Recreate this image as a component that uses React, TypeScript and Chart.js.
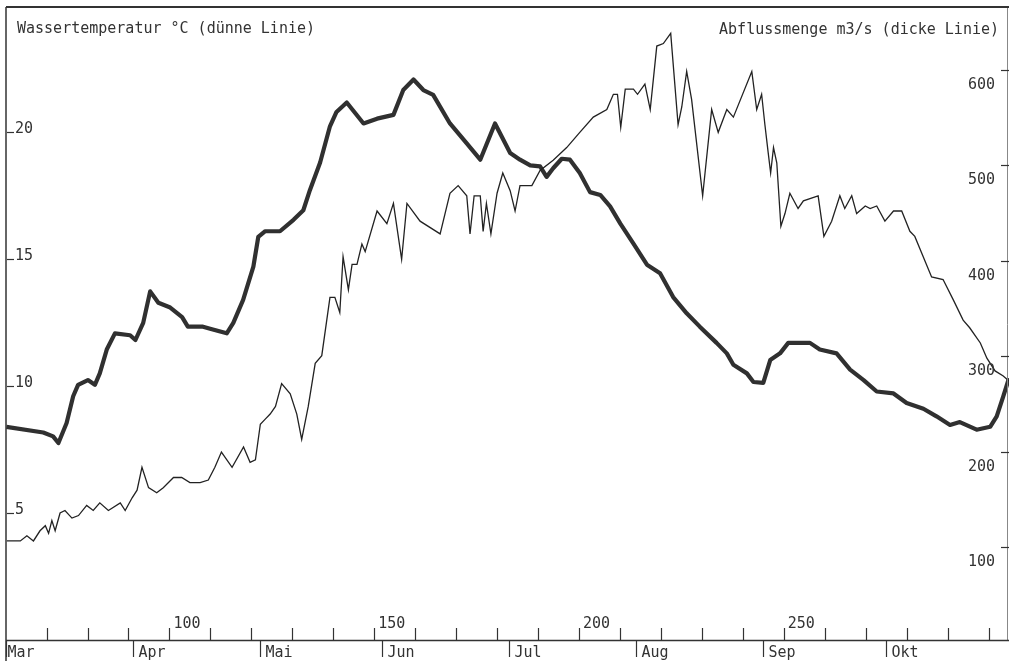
import React, { useEffect, useRef } from 'react';
import { Chart, registerables } from 'chart.js';

Chart.register(...registerables);

// Day of year (x) and water temperature in °C (thin line, left axis)
const tempDays = [
  60.3, 63.6, 65.2, 66.8, 68.4, 69.7, 70.5, 71.3, 72.1, 73.3, 74.5, 76.2, 77.8, 79.8, 81.4, 83.0, 85.1,
  88.0, 89.2, 90.9, 92.1, 93.3, 94.9, 96.9, 98.5, 101.0, 103.0, 105.0, 107.5, 109.5, 111.1, 112.7,
  115.3, 118.1, 119.7, 121.0, 122.2, 123.4, 124.6, 125.9, 127.4, 129.5, 131.1, 132.3, 133.9, 135.6,
  137.2, 139.2, 140.4, 141.6, 142.4, 143.7, 144.6, 145.8, 147.0, 147.8, 150.7, 153.1, 154.7, 156.7,
  158.0, 161.2, 166.1, 168.5, 170.5, 172.6, 173.4, 174.4, 175.9, 176.6, 177.4, 178.5, 180.0, 181.4,
  183.2, 184.4, 185.6, 188.5, 190.5, 193.7, 197.0, 200.2, 203.5, 206.8, 208.4, 209.4, 210.2, 211.3,
  213.3, 214.3, 216.1, 217.4, 219.0, 220.6, 222.4, 224.2, 225.1, 226.3, 227.5, 230.2, 232.4, 234.0,
  236.1, 237.7, 242.2, 243.4, 244.6, 245.4, 246.2, 246.8, 247.5, 248.3, 249.3, 250.3, 251.5, 253.5,
  254.8, 258.4, 259.8, 261.7, 263.7, 264.9, 266.6, 267.8, 269.9, 271.1, 272.7, 274.7, 276.8, 278.8,
  280.8, 282.0, 286.1, 288.9, 291.4, 293.8, 295.4, 298.0, 299.6, 301.6, 303.6, 305.0,
];
const tempValues = [
  3.9, 3.9, 4.1, 3.9, 4.3, 4.5, 4.2, 4.7, 4.3, 5.0, 5.1, 4.8, 4.9, 5.3, 5.1, 5.4, 5.1,
  5.4, 5.1, 5.6, 5.9, 6.8, 6.0, 5.8, 6.0, 6.4, 6.4, 6.2, 6.2, 6.3, 6.8, 7.4,
  6.8, 7.6, 7.0, 7.1, 8.5, 8.7, 8.9, 9.2, 10.1, 9.7, 8.9, 7.9, 9.2, 10.9,
  11.2, 13.5, 13.5, 12.9, 15.1, 13.8, 14.8, 14.8, 15.6, 15.3, 16.9, 16.4, 17.2, 15.0,
  17.2, 16.5, 16.0, 17.6, 17.9, 17.5, 16.0, 17.5, 17.5, 16.1, 17.2, 16.0, 17.6, 18.4,
  17.7, 16.9, 17.9, 17.9, 18.5, 18.9, 19.4, 20.0, 20.6, 20.9, 21.5, 21.5, 20.2, 21.7,
  21.7, 21.5, 21.9, 20.9, 23.4, 23.5, 23.9, 20.3, 21.0, 22.4, 21.3, 17.5, 20.9, 20.0,
  20.9, 20.6, 22.4, 20.9, 21.5, 20.3, 19.2, 18.4, 19.4, 18.8, 16.3, 16.8, 17.6, 17.0,
  17.3, 17.5, 15.9, 16.5, 17.5, 17.0, 17.5, 16.8, 17.1, 17.0, 17.1, 16.5, 16.9, 16.9,
  16.1, 15.9, 14.3, 14.2, 13.4, 12.6, 12.3, 11.7, 11.1, 10.6, 10.4, 10.2,
];

// Day of year (x) and discharge in m3/s (thick line, right axis)
const flowDays = [
  60.2, 69.2, 71.6, 72.9, 74.9, 76.5, 77.7, 80.1, 81.8, 83.0, 84.7, 86.7, 90.4, 91.7, 93.6, 95.3,
  97.3, 100.2, 103.1, 104.5, 108.2, 110.6, 114.0, 115.6, 118.0, 120.5, 121.7, 123.4, 127.0, 130.3,
  132.7, 134.3, 136.8, 139.2, 140.8, 143.3, 147.4, 150.7, 154.7, 157.1, 159.6, 162.0, 164.4, 168.5,
  172.6, 175.9, 179.5, 183.2, 185.6, 188.1, 190.5, 192.1, 193.7, 195.8, 197.8, 200.2, 202.7, 205.2,
  207.6, 210.1, 213.3, 216.6, 219.8, 223.0, 226.3, 229.5, 233.6, 236.1, 237.7, 241.0, 242.6, 245.0,
  246.7, 249.1, 251.1, 256.4, 258.8, 262.9, 266.2, 269.5, 272.7, 276.8, 280.0, 284.1, 287.3, 290.6,
  293.0, 297.1, 300.4, 302.0, 303.6, 305.0,
];
const flowValues = [
  226, 220, 216, 209, 230, 258, 270, 275, 270, 282, 307, 324, 322, 317, 335, 368,
  356, 351, 341, 331, 331, 328, 324, 335, 359, 394, 425, 431, 431, 443,
  453, 474, 503, 541, 556, 566, 544, 549, 553, 579, 590, 579, 574, 544,
  523, 506, 544, 513, 506, 500, 499, 488, 497, 507, 506, 492, 472, 469,
  457, 439, 418, 396, 387, 362, 345, 331, 314, 303, 291, 282, 273, 272,
  296, 303, 314, 314, 307, 303, 286, 275, 263, 261, 251, 245, 237, 228,
  231, 223, 226, 237, 258, 277,
];

const dayTicks = [70, 80, 90, 100, 110, 120, 130, 140, 150, 160, 170, 180, 190, 200, 210, 220, 230, 240, 250, 260, 270, 280, 290, 300];
const dayLabels = [100, 150, 200, 250];
const monthNames = ['Mar', 'Apr', 'Mai', 'Jun', 'Jul', 'Aug', 'Sep', 'Okt'];
const monthStarts = [60.1, 91, 122, 152, 183, 214, 245, 275];
const tempTicks = [5, 10, 15, 20];
const flowTicks = [100, 200, 300, 400, 500, 600];
const titleLeft = 'Wassertemperatur °C (dünne Linie)';
const titleRight = 'Abflussmenge m3/s (dicke Linie)';

const FONT = '15px "DejaVu Sans Mono", "Liberation Mono", monospace';
const INK = '#333333';

const decorations = {
  id: 'decorations',
  afterDraw(chart: any) {
    const { ctx, chartArea: a, scales } = chart;
    const sx = scales.x;
    const sT = scales.yT;
    const sQ = scales.yQ;
    ctx.save();
    ctx.strokeStyle = INK;
    ctx.fillStyle = INK;
    ctx.font = FONT;

    // frame
    ctx.lineWidth = 2;
    ctx.beginPath();
    ctx.moveTo(a.left, a.top - 1);
    ctx.lineTo(a.right, a.top - 1);
    ctx.stroke();
    ctx.lineWidth = 1.5;
    ctx.beginPath();
    ctx.moveTo(a.left, a.top - 1);
    ctx.lineTo(a.left, a.bottom + 20);
    ctx.stroke();
    ctx.lineWidth = 1;
    ctx.strokeStyle = '#888888';
    ctx.beginPath();
    ctx.moveTo(a.right - 1.5, a.top);
    ctx.lineTo(a.right - 1.5, a.bottom);
    ctx.stroke();
    ctx.strokeStyle = INK;

    // bottom axis
    ctx.lineWidth = 1.5;
    ctx.beginPath();
    ctx.moveTo(a.left, a.bottom - 0.5);
    ctx.lineTo(a.right, a.bottom - 0.5);
    ctx.stroke();
    ctx.lineWidth = 1.2;
    dayTicks.forEach((d) => {
      const px = Math.round(sx.getPixelForValue(d)) + 0.5;
      ctx.beginPath();
      ctx.moveTo(px, a.bottom);
      ctx.lineTo(px, a.bottom - 13);
      ctx.stroke();
    });
    ctx.textAlign = 'left';
    ctx.textBaseline = 'alphabetic';
    dayLabels.forEach((d) => {
      const px = sx.getPixelForValue(d);
      ctx.fillText(String(d), px + 4, a.bottom - 13);
    });
    monthStarts.forEach((d, i) => {
      const px = Math.round(sx.getPixelForValue(d)) + 0.5;
      ctx.beginPath();
      ctx.moveTo(px, a.bottom);
      ctx.lineTo(px, a.bottom + 16);
      ctx.stroke();
      ctx.fillText(monthNames[i], px + (i === 0 ? 1 : 5), a.bottom + 16);
    });

    // left axis labels
    tempTicks.forEach((v) => {
      const py = Math.round(sT.getPixelForValue(v)) + 0.5;
      ctx.beginPath();
      ctx.moveTo(a.left + 1, py);
      ctx.lineTo(a.left + 8, py);
      ctx.stroke();
      ctx.textAlign = 'left';
      ctx.fillText(String(v), a.left + 9, py + 0.5);
    });

    // right axis labels
    flowTicks.forEach((v) => {
      const py = Math.round(sQ.getPixelForValue(v)) + 0.5;
      ctx.beginPath();
      ctx.moveTo(a.right - 8, py);
      ctx.lineTo(a.right, py);
      ctx.stroke();
      ctx.textAlign = 'right';
      ctx.fillText(String(v), a.right - 14, py + 18);
    });

    // titles
    ctx.textAlign = 'left';
    ctx.fillText(titleLeft, a.left + 11, a.top + 25);
    ctx.textAlign = 'right';
    ctx.fillText(titleRight, a.right - 10, a.top + 26);
    ctx.restore();
  },
};

export default function App() {
  const canvasRef = useRef<HTMLCanvasElement | null>(null);

  useEffect(() => {
    const canvas = canvasRef.current;
    if (!canvas) return;
    const tempData = tempDays.map((d, i) => ({ x: d, y: tempValues[i] }));
    const flowData = flowDays.map((d, i) => ({ x: d, y: flowValues[i] }));
    const chart = new Chart(canvas, {
      type: 'line',
      data: {
        datasets: [
          {
            label: 'Wassertemperatur °C',
            data: tempData,
            yAxisID: 'yT',
            borderColor: '#222222',
            borderWidth: 1.3,
            pointRadius: 0,
            tension: 0,
            fill: false,
          },
          {
            label: 'Abflussmenge m3/s',
            data: flowData,
            yAxisID: 'yQ',
            borderColor: '#303030',
            borderWidth: 4.2,
            pointRadius: 0,
            tension: 0,
            fill: false,
            borderJoinStyle: 'round',
          },
        ],
      },
      options: {
        animation: false,
        responsive: false,
        devicePixelRatio: 1,
        parsing: true,
        layout: { padding: { left: 6, top: 8, right: 0, bottom: 26 } },
        plugins: {
          legend: { display: false },
          tooltip: { enabled: false },
          title: { display: false },
        },
        scales: {
          x: { type: 'linear', min: 60.1, max: 305, display: false },
          yT: { type: 'linear', position: 'left', min: -0.043, max: 24.9, display: false },
          yQ: { type: 'linear', position: 'right', min: 1.5, max: 665, display: false },
        },
      },
      plugins: [decorations],
    });
    return () => chart.destroy();
  }, []);

  return (
    <div style={{ position: 'absolute', left: 0, top: 0, width: 1009, height: 667, background: '#ffffff' }}>
      <canvas ref={canvasRef} width={1009} height={667} style={{ display: 'block' }} />
    </div>
  );
}
